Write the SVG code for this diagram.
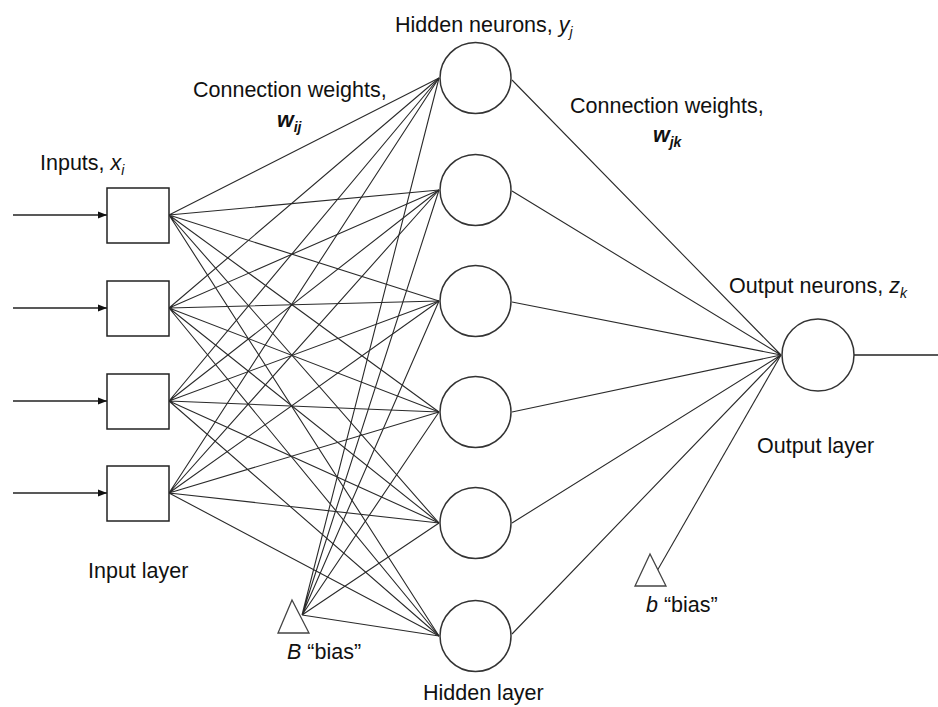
<svg xmlns="http://www.w3.org/2000/svg" width="938" height="707" viewBox="0 0 938 707">
<defs>
<marker id="arr" viewBox="0 0 10 10" refX="10" refY="5" markerWidth="10" markerHeight="9" markerUnits="userSpaceOnUse" orient="auto">
<path d="M0,1 L10,5 L0,9 Z" fill="#111"/>
</marker>
</defs>
<style>
.box{fill:#fff;stroke:#222;stroke-width:1.5}
.neu{fill:#fff;stroke:#333;stroke-width:1.5}
.tri{fill:#fff;stroke:#444;stroke-width:1.3}
.w{stroke:#2a2a2a;stroke-width:1.1;fill:none}
.in{stroke:#222;stroke-width:1.7;fill:none}
.t{font-family:"Liberation Sans",Arial,sans-serif;font-size:21.5px;fill:#111}
.i{font-style:italic}
.b{font-weight:bold;font-style:italic}
.s{font-size:14px;font-style:italic}
</style>
<rect width="938" height="707" fill="#fff"/>
<g id="connectors">
<path class="w" d="M169,215 L439,78 M169,215 L439,190 M169,215 L439,301 M169,215 L439,412 M169,215 L439,523 M169,215 L439,636"/>
<path class="w" d="M169,308 L439,78 M169,308 L439,190 M169,308 L439,301 M169,308 L439,412 M169,308 L439,523 M169,308 L439,636"/>
<path class="w" d="M169,401 L439,78 M169,401 L439,190 M169,401 L439,301 M169,401 L439,412 M169,401 L439,523 M169,401 L439,636"/>
<path class="w" d="M169,493 L439,78 M169,493 L439,190 M169,493 L439,301 M169,493 L439,412 M169,493 L439,523 M169,493 L439,636"/>
<path class="w" d="M302,615 L439,78 M302,615 L439,190 M302,615 L439,301 M302,615 L439,412 M302,615 L439,523 M302,615 L439,636"/>
<path class="w" d="M512,80 L781,355 M512,191 L781,355 M512,302 L781,355 M512,412 L781,355 M512,523 L781,355 M512,634 L781,355"/>
<path class="w" d="M657,571 L781,355"/>
<path class="in" d="M13,215 L107,215" marker-end="url(#arr)"/>
<path class="in" d="M13,308 L107,308" marker-end="url(#arr)"/>
<path class="in" d="M13,401 L107,401" marker-end="url(#arr)"/>
<path class="in" d="M13,493 L107,493" marker-end="url(#arr)"/>
<path class="in" d="M854,355 L938,355"/>
</g>
<g id="input1"><rect class="box" x="107" y="188" width="62" height="55"/></g>
<g id="input2"><rect class="box" x="107" y="281" width="62" height="55"/></g>
<g id="input3"><rect class="box" x="107" y="374" width="62" height="55"/></g>
<g id="input4"><rect class="box" x="107" y="466" width="62" height="55"/></g>
<g id="hidden1"><circle class="neu" cx="475.5" cy="78" r="35.5"/></g>
<g id="hidden2"><circle class="neu" cx="475.5" cy="190" r="35.5"/></g>
<g id="hidden3"><circle class="neu" cx="475.5" cy="301" r="35.5"/></g>
<g id="hidden4"><circle class="neu" cx="475.5" cy="412" r="35.5"/></g>
<g id="hidden5"><circle class="neu" cx="475.5" cy="523" r="35.5"/></g>
<g id="hidden6"><circle class="neu" cx="475.5" cy="636" r="35.5"/></g>
<g id="output"><circle class="neu" cx="818" cy="355" r="36"/></g>
<g id="biasB"><polygon class="tri" points="292,600 278,633 309,633"/></g>
<g id="biasb"><polygon class="tri" points="650,554 635,586 666,586"/></g>
<g id="labels">
<text class="t" x="40" y="170">Inputs, <tspan class="i">x</tspan><tspan class="s" dy="5">i</tspan></text>
<text class="t" x="193" y="97">Connection weights,</text>
<text class="t" x="277" y="127"><tspan class="b">w</tspan><tspan class="s b" dy="5">ij</tspan></text>
<text class="t" x="395" y="32">Hidden neurons, <tspan class="i">y</tspan><tspan class="s" dy="5">j</tspan></text>
<text class="t" x="570" y="113">Connection weights,</text>
<text class="t" x="653" y="142"><tspan class="b">w</tspan><tspan class="s b" dy="5">jk</tspan></text>
<text class="t" x="729" y="293">Output neurons, <tspan class="i">z</tspan><tspan class="s" dy="5">k</tspan></text>
<text class="t" x="757" y="453">Output layer</text>
<text class="t" x="88" y="578">Input layer</text>
<text class="t" x="287" y="659"><tspan class="i">B</tspan> “bias”</text>
<text class="t" x="423" y="700">Hidden layer</text>
<text class="t" x="646" y="612"><tspan class="i">b</tspan> “bias”</text>
</g>
</svg>
